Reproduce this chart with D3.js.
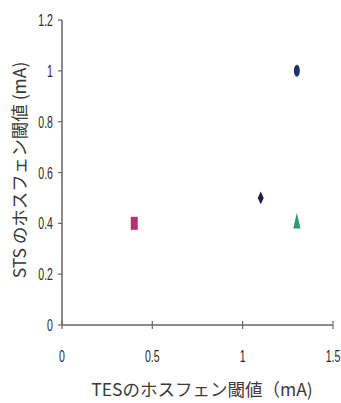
<!DOCTYPE html>
<html lang="ja">
<head>
    <meta charset="UTF-8">
    <title>TES vs STS ホスフェン閾値</title>
    <script src="https://d3js.org/d3.v7.min.js"></script>
    <style>
        body { margin: 0; background: #fff; }
        .tick-label { font-family: "Liberation Sans", Arial, sans-serif; font-size: 16px; fill: #2a2a2a; }
        .axis-title { font-family: "Noto Sans CJK JP", sans-serif; font-size: 17.5px; fill: #3a3a3a; }
    </style>
</head>
<body>
    <script>
        // data
        var tesValues = [1.3, 1.1, 1.3, 0.4];
        var stsValues = [1.0, 0.5, 0.4, 0.4];
        var xTicks = [0, 0.5, 1, 1.5];
        var xTickLabels = ["0", "0.5", "1", "1.5"];
        var yTicks = [0, 0.2, 0.4, 0.6, 0.8, 1, 1.2];
        var yTickLabels = ["0", "0.2", "0.4", "0.6", "0.8", "1", "1.2"];

        // marker style per point (same order as data)
        var markers = [
            { type: d3.symbolCircle, size: 113, sx: 0.5, sy: 1, color: "#1f2f6e" },
            { type: d3.symbolDiamond, size: 48, sx: 0.8, sy: 1, color: "#1c1c45" },
            { type: d3.symbolTriangle, size: 64, sx: 0.6, sy: 1.5, color: "#2f9a6c" },
            { type: d3.symbolSquare, size: 100, sx: 0.7, sy: 1.3, color: "#b3336d" }
        ];

        var w = 341, h = 403;
        var plotLeft = 62, plotRight = 333, plotTop = 20, plotBottom = 325;

        var xScale = d3.scaleLinear().domain([0, 1.5]).range([plotLeft, plotRight]);
        var yScale = d3.scaleLinear().domain([0, 1.2]).range([plotBottom, plotTop]);

        var svg = d3.select("body")
            .append("svg")
            .attr("width", w)
            .attr("height", h);

        var axisColor = "#666";
        var narrow = 0.66; // tick labels are condensed

        // y axis
        svg.append("line")
            .attr("x1", plotLeft).attr("x2", plotLeft)
            .attr("y1", yScale(1.2)).attr("y2", yScale(0))
            .attr("stroke", axisColor).attr("stroke-width", 1.5);

        svg.selectAll(".ytick")
            .data(yTicks)
            .enter()
            .append("line")
            .attr("class", "ytick")
            .attr("x1", plotLeft - 4).attr("x2", plotLeft)
            .attr("y1", function(d) { return yScale(d); })
            .attr("y2", function(d) { return yScale(d); })
            .attr("stroke", axisColor).attr("stroke-width", 1.2);

        svg.selectAll(".ylab")
            .data(yTicks)
            .enter()
            .append("text")
            .attr("class", "tick-label ylab")
            .attr("transform", function(d) {
                return "translate(" + (plotLeft - 9) + "," + (yScale(d) + 6) + ") scale(" + narrow + ",1)";
            })
            .attr("text-anchor", "end")
            .text(function(d, i) { return yTickLabels[i]; });

        // x axis
        svg.append("line")
            .attr("x1", xScale(0)).attr("x2", xScale(1.5))
            .attr("y1", plotBottom).attr("y2", plotBottom)
            .attr("stroke", axisColor).attr("stroke-width", 1.5);

        svg.selectAll(".xtick")
            .data(xTicks)
            .enter()
            .append("line")
            .attr("class", "xtick")
            .attr("x1", function(d) { return xScale(d); })
            .attr("x2", function(d) { return xScale(d); })
            .attr("y1", plotBottom - 4).attr("y2", plotBottom + 4)
            .attr("stroke", axisColor).attr("stroke-width", 1.2);

        svg.selectAll(".xlab")
            .data(xTicks)
            .enter()
            .append("text")
            .attr("class", "tick-label xlab")
            .attr("transform", function(d) {
                return "translate(" + xScale(d) + ",362) scale(" + narrow + ",1)";
            })
            .attr("text-anchor", "middle")
            .text(function(d, i) { return xTickLabels[i]; });

        // axis titles
        svg.append("text")
            .attr("class", "axis-title")
            .attr("x", 202)
            .attr("y", 396)
            .attr("text-anchor", "middle")
            .text("TESのホスフェン閾値（mA)");

        svg.append("text")
            .attr("class", "axis-title")
            .attr("transform", "translate(26,170) rotate(-90)")
            .attr("text-anchor", "middle")
            .text("STS のホスフェン閾値 (mA)");

        // points
        svg.selectAll(".pt")
            .data(tesValues)
            .enter()
            .append("path")
            .attr("class", "pt")
            .attr("d", function(d, i) {
                return d3.symbol().type(markers[i].type).size(markers[i].size)();
            })
            .attr("transform", function(d, i) {
                return "translate(" + xScale(d) + "," + yScale(stsValues[i]) + ") scale(" + markers[i].sx + "," + markers[i].sy + ")";
            })
            .attr("fill", function(d, i) { return markers[i].color; });
    </script>
</body>
</html>
